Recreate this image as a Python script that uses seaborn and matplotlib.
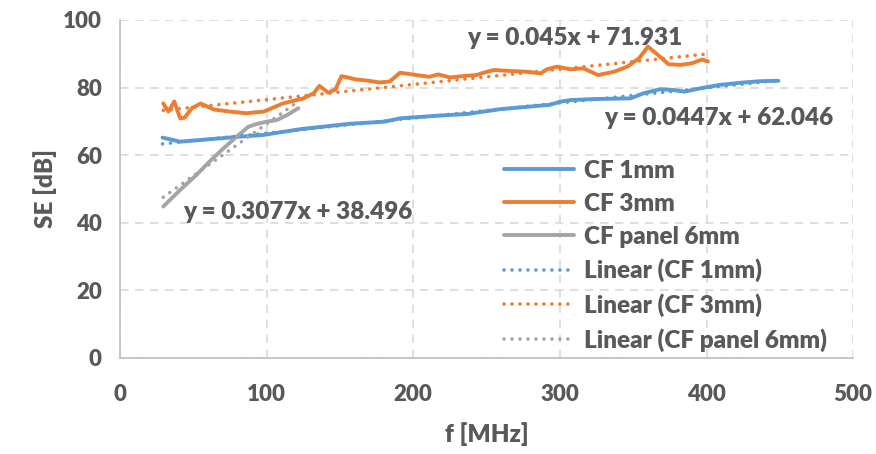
import numpy as np
import pandas as pd
import matplotlib
matplotlib.use("Agg")
import matplotlib.pyplot as plt
import seaborn as sns

cf1_f = [29, 34, 41, 55, 77, 98, 123, 157, 180, 191, 214, 237, 259, 280, 293, 300,
         307, 323, 348, 357, 368, 377, 385, 396, 409, 425, 437, 449]
cf1_se = [65.2, 64.7, 64.0, 64.5, 65.3, 66.0, 67.7, 69.3, 69.9, 70.9, 71.6, 72.2,
          73.6, 74.4, 74.9, 75.8, 76.3, 76.6, 76.8, 78.3, 79.5, 79.3, 78.8, 79.8,
          80.8, 81.5, 81.9, 82.0]

cf3_f = [29.5, 33, 37, 41, 44, 49, 55, 64, 75, 86, 98, 111, 125, 132, 136, 142, 147,
         151, 161, 170, 177, 184, 191, 202, 211, 217, 225, 234, 243, 248, 255, 266,
         277, 287, 291, 298, 307, 316, 326, 337, 346, 354, 360, 367, 374, 382, 390,
         397, 401]
cf3_se = [75.3, 72.9, 75.9, 70.9, 71.1, 73.9, 75.3, 73.5, 72.9, 72.4, 72.9, 75.3,
          76.8, 78.3, 80.5, 78.5, 79.5, 83.4, 82.4, 82.0, 81.5, 81.8, 84.4, 83.7,
          83.2, 83.9, 83.0, 83.4, 83.7, 84.4, 85.2, 84.9, 84.7, 84.2, 85.4, 86.2,
          85.4, 85.7, 83.7, 84.7, 86.2, 88.7, 92.1, 89.6, 86.9, 86.7, 87.2, 88.3, 87.7]

panel_f = [29.5, 41, 52, 61, 70.5, 79.6, 87.5, 93, 100, 107, 114, 121.6]
panel_se = [44.8, 49.7, 54.1, 58.1, 62.0, 65.5, 68.4, 69.2, 69.9, 70.4, 71.9, 73.9]

series_names = ["CF 1mm", "CF 3mm", "CF panel 6mm"]
# linear trendline coefficients as printed on the chart
trend_slope = [0.0447, 0.045, 0.3077]
trend_icpt = [62.046, 71.931, 38.496]
trend_labels = ["y = 0.0447x + 62.046", "y = 0.045x + 71.931", "y = 0.3077x + 38.496"]

colors = ["#5B9BD5", "#ED7D31", "#A5A5A5"]
text_col = "#595959"
W = "heavy"
fs_tick = 16
fs_text = 17.5

sns.set_style("white")
plt.rcParams["font.family"] = ["Lato", "DejaVu Sans"]

fig = plt.figure(figsize=(8.76, 4.54), dpi=100)
ax = fig.add_axes([0.137, 0.2115, 0.837, 0.7445])

data = [(cf1_f, cf1_se), (cf3_f, cf3_se), (panel_f, panel_se)]

for (f, se), name, c in zip(data, series_names, colors):
    df = pd.DataFrame({"f": f, "se": se})
    sns.lineplot(data=df, x="f", y="se", ax=ax, color=c, linewidth=2.8,
                 label=name, sort=False, solid_capstyle="round")

for (f, se), name, c, m, b in zip(data, series_names, colors, trend_slope, trend_icpt):
    fx = np.array([min(f), max(f)])
    df = pd.DataFrame({"f": fx, "se": m * fx + b})
    sns.lineplot(data=df, x="f", y="se", ax=ax, color=c, linewidth=2.6,
                 linestyle=(0, (0.01, 2.2)), dash_capstyle="round",
                 label="Linear (" + name + ")")

# equation labels
ax.text(310, 94.7, trend_labels[1], ha="center", va="center", fontsize=fs_text,
        fontweight=W, color=text_col)
ax.text(408, 71.0, trend_labels[0], ha="center", va="center", fontsize=fs_text,
        fontweight=W, color=text_col)
ax.text(121, 43.2, trend_labels[2], ha="center", va="center", fontsize=fs_text,
        fontweight=W, color=text_col)

ax.set_xlim(0, 500)
ax.set_ylim(0, 100)
ax.set_xticks(range(0, 501, 100))
ax.set_yticks(range(0, 101, 20))
ax.grid(True, color="#d9d9d9", linestyle=(0, (5, 4)), linewidth=1.2)
ax.set_axisbelow(True)
for s in ["top", "right"]:
    ax.spines[s].set_visible(False)
for s in ["left", "bottom"]:
    ax.spines[s].set_color("#bfbfbf")
    ax.spines[s].set_linewidth(1.2)
ax.tick_params(axis="both", colors="#bfbfbf", labelcolor=text_col, labelsize=fs_tick,
               length=5, width=1.2, direction="out")
ax.tick_params(axis="x", pad=14)
ax.tick_params(axis="y", pad=8)
for lab in ax.get_xticklabels() + ax.get_yticklabels():
    lab.set_fontweight(W)

ax.set_xlabel("f [MHz]", fontsize=fs_text, fontweight=W, color=text_col, labelpad=12)
ax.set_ylabel("SE [dB]", fontsize=fs_text, fontweight=W, color=text_col, labelpad=4)

leg = ax.legend(loc="upper left", bbox_to_anchor=(0.51, 0.615), frameon=False,
                prop={"size": fs_text, "weight": W}, handlelength=2.9,
                handletextpad=0.4, labelspacing=0.45, borderaxespad=0)
for t in leg.get_texts():
    t.set_color(text_col)

fig.savefig("out.png", dpi=100)
